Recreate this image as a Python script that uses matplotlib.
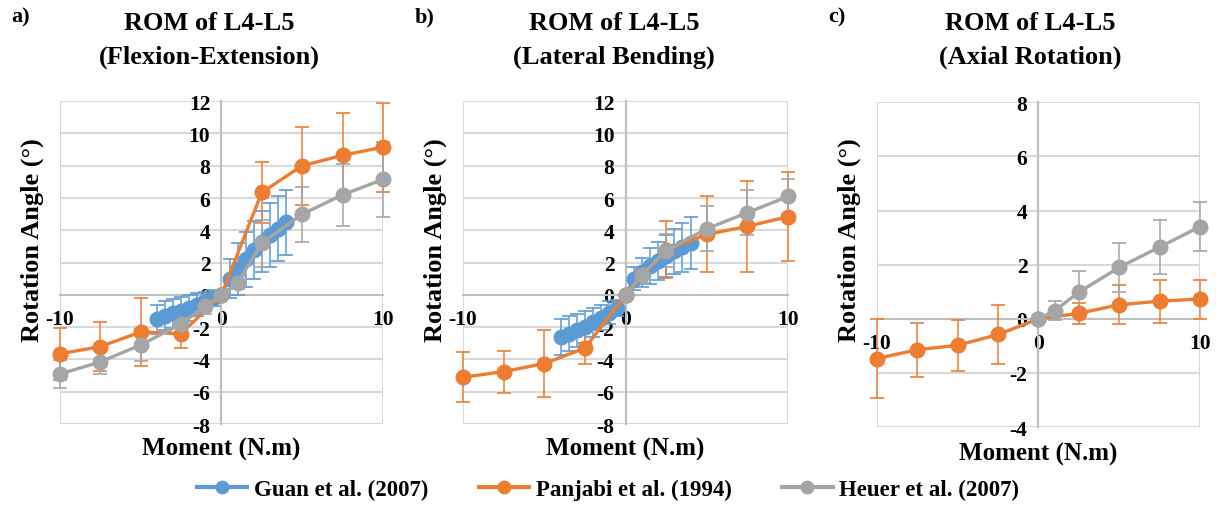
import matplotlib
matplotlib.use("Agg")
import matplotlib.pyplot as plt

plt.rcParams["font.family"] = ["Liberation Serif", "DejaVu Serif"]
plt.rcParams["font.weight"] = "bold"
plt.rcParams["axes.unicode_minus"] = False

# Data
guan_x = [-4, -3.5, -3, -2.5, -2, -1.5, -1, -0.5, 0, 0.5, 1, 1.5, 2, 2.5, 3, 3.5, 4]
panjabi_x = [-10, -7.5, -5, -2.5, 0, 2.5, 5, 7.5, 10]
heuer_x_fe = [-10, -7.5, -5, -2.5, -1, 0, 1, 2.5, 5, 7.5, 10]
heuer_x = [0, 1, 2.5, 5, 7.5, 10]

# a) flexion-extension
guan_fe = [-1.5, -1.3, -1.15, -1.0, -0.8, -0.6, -0.4, -0.2, 0, 1.0, 1.6, 2.2, 2.8, 3.3, 3.7, 4.1, 4.5]
guan_fe_err = [0.9, 0.9, 0.9, 0.85, 0.8, 0.7, 0.6, 0.5, 0, 1.2, 1.6, 1.7, 1.8, 1.9, 2.0, 2.0, 2.0]
panjabi_fe = [-3.65, -3.2, -2.3, -2.4, 0, 6.35, 8.0, 8.65, 9.15]
panjabi_fe_err = [1.6, 1.5, 2.1, 0.9, 0, 1.9, 2.4, 2.65, 2.75]
heuer_fe = [-4.9, -4.15, -3.1, -1.8, -0.7, 0, 0.75, 3.2, 5.0, 6.2, 7.15]
heuer_fe_err = [0.85, 0.75, 1.0, 0.5, 0.5, 0, 0.4, 1.45, 1.7, 1.9, 2.3]

# b) lateral bending
guan_lb = [-2.6, -2.4, -2.2, -2.0, -1.7, -1.4, -1.1, -0.8, 0, 1.0, 1.4, 1.8, 2.1, 2.4, 2.7, 2.95, 3.2]
guan_lb_err = [1.1, 1.1, 1.0, 1.0, 0.9, 0.8, 0.7, 0.5, 0, 0.7, 0.9, 1.1, 1.2, 1.3, 1.4, 1.5, 1.6]
panjabi_lb = [-5.1, -4.75, -4.25, -3.3, 0, 2.8, 3.75, 4.25, 4.85]
panjabi_lb_err = [1.55, 1.3, 2.1, 1.0, 0, 1.75, 2.35, 2.8, 2.75]
heuer_lb = [0, 1.25, 2.75, 4.1, 5.1, 6.1]
heuer_lb_err = [0, 0.5, 1.05, 1.4, 1.4, 1.1]

# c) axial rotation
panjabi_ar = [-1.47, -1.14, -0.98, -0.58, 0, 0.2, 0.52, 0.65, 0.73]
panjabi_ar_err = [1.45, 1.0, 0.95, 1.1, 0, 0.4, 0.72, 0.8, 0.72]
heuer_ar = [0, 0.3, 0.98, 1.9, 2.65, 3.4]
heuer_ar_err = [0, 0.35, 0.8, 0.9, 1.0, 0.9]

blue = "#5B9BD5"
orange = "#ED7D31"
gray = "#A5A5A5"

fig = plt.figure(figsize=(12.16, 5.06), dpi=100)

panels = [
    # axes rect, ylim, yticks, series, letter, subtitle, title x, xlabel y
    ([0.0493, 0.160, 0.2656, 0.638], (-8, 12), range(-8, 13, 2),
     [(guan_x, guan_fe, guan_fe_err, blue),
      (panjabi_x, panjabi_fe, panjabi_fe_err, orange),
      (heuer_x_fe, heuer_fe, heuer_fe_err, gray)],
     "a)", "(Flexion-Extension)", 209 / 1216, 449),
    ([0.3808, 0.160, 0.2673, 0.638], (-8, 12), range(-8, 13, 2),
     [(guan_x, guan_lb, guan_lb_err, blue),
      (panjabi_x, panjabi_lb, panjabi_lb_err, orange),
      (heuer_x, heuer_lb, heuer_lb_err, gray)],
     "b)", "(Lateral Bending)", 614 / 1216, 449),
    ([0.7212, 0.154, 0.2656, 0.642], (-4, 8), range(-4, 9, 2),
     [(panjabi_x, panjabi_ar, panjabi_ar_err, orange),
      (heuer_x, heuer_ar, heuer_ar_err, gray)],
     "c)", "(Axial Rotation)", 1030 / 1216, 454),
]

for rect, ylim, yticks, series, letter, subtitle, tx, xly in panels:
    ax = fig.add_axes(rect)
    for x, y, err, c in series:
        ax.errorbar(x, y, yerr=err, color=c, marker="o", markersize=10.5,
                    linewidth=2.4, elinewidth=1.1, capsize=5, capthick=1.2,
                    clip_on=False, zorder=3)
    ax.set_xlim(-10, 10)
    ax.set_ylim(*ylim)
    ax.set_xticks([-10, 0, 10])
    ax.set_yticks(list(yticks))
    ax.grid(True, color="#d9d9d9", linewidth=1.5, zorder=0)
    ax.set_axisbelow(True)
    for s in ["top", "right"]:
        ax.spines[s].set_visible(False)
    ax.spines["left"].set_position(("data", 0))
    ax.spines["bottom"].set_position(("data", 0))
    ax.spines["left"].set_color("#bfbfbf")
    ax.spines["bottom"].set_color("#bfbfbf")
    ax.spines["left"].set_linewidth(1.5)
    ax.spines["bottom"].set_linewidth(1.5)
    ax.tick_params(axis="both", length=0, labelsize=15.5)
    ax.tick_params(axis="y", pad=8)
    ax.tick_params(axis="x", pad=10)

    # axis titles
    cx = rect[0] + rect[2] / 2
    fig.text(cx, (506 - xly) / 506, "Moment (N.m)",
             ha="center", va="center", fontsize=18, fontweight="bold")
    fig.text(rect[0] - 0.0225, (506 - 240) / 506, "Rotation Angle (°)",
             rotation=90, ha="center", va="center", fontsize=19, fontweight="bold")

    # chart titles
    fig.text(tx, (506 - 23) / 506, "ROM of L4-L5", ha="center", va="center",
             fontsize=19, fontweight="bold")
    fig.text(tx, (506 - 57) / 506, subtitle, ha="center", va="center",
             fontsize=19, fontweight="bold")
    fig.text(rect[0] - 0.04, (506 - 17) / 506, letter, ha="left", va="center",
             fontsize=16, fontweight="bold")

# legend
handles = [plt.Line2D([], [], color=c, marker="o", markersize=9, linewidth=3)
           for c in (blue, orange, gray)]
fig.legend(handles, ["Guan et al. (2007)", "Panjabi et al. (1994)", "Heuer et al. (2007)"],
           loc="center", bbox_to_anchor=(0.5, (506 - 490) / 506), ncol=3,
           frameon=False, fontsize=16.5, handlelength=2.2, columnspacing=2.2,
           handletextpad=0.3)

fig.savefig("out.png", dpi=100)
